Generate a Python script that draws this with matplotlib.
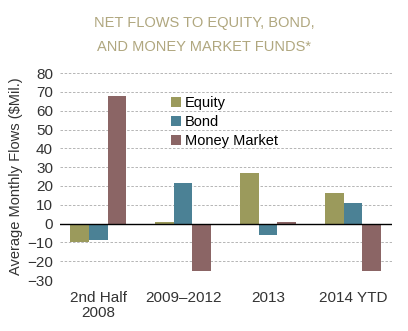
import matplotlib.pyplot as plt
import numpy as np

categories = ['2nd Half\n2008', '2009\u20132012', '2013', '2014 YTD']
equity = [-10, 1, 27, 16.5]
bond = [-8.5, 21.5, -6, 11]
money_market = [68, -25, 1, -25]

plt.rcParams['font.family'] = ['Liberation Sans', 'DejaVu Sans']

fig = plt.figure(figsize=(4.08, 3.31), dpi=100)
ax = fig.add_axes([0.147, 0.154, 0.814, 0.625])

x = np.arange(len(categories))
w = 0.22
ax.bar(x - w, equity, w, color='#9b9a5c', label='Equity', zorder=3)
ax.bar(x, bond, w, color='#4b8195', label='Bond', zorder=3)
ax.bar(x + w, money_market, w, color='#8b6565', label='Money Market', zorder=3)

ax.set_xlim(-0.45, 3.46)
ax.set_ylim(-30, 80)
ax.set_yticks(range(-30, 90, 10))
ax.set_yticklabels([str(v).replace('-', '\u2212') for v in range(-30, 90, 10)])
ax.set_xticks(x)
ax.set_xticklabels(categories, linespacing=1.1)
ax.tick_params(axis='both', length=0, labelsize=11, colors='#333333')
ax.tick_params(axis='x', pad=8)
ax.tick_params(axis='y', pad=5)

ax.grid(axis='y', color='#aaaaaa', linestyle=(0, (3, 2)), linewidth=0.6, zorder=0)
ax.axhline(0, color='black', linewidth=1.0, zorder=4)
for s in ax.spines.values():
    s.set_visible(False)

ax.set_ylabel('Average Monthly Flows ($Mil.)', fontsize=10.5, color='#333333', labelpad=3)

ax.legend(loc='upper left', bbox_to_anchor=(0.335, 0.89), frameon=False, fontsize=10.5,
          handlelength=0.65, handleheight=0.65, handletextpad=0.3, labelspacing=0.35,
          borderaxespad=0, borderpad=0)

fig.text(0.5, 0.932, 'NET FLOWS TO EQUITY, BOND,', ha='center', va='center',
         fontsize=10.5, color='#b0a77f')
fig.text(0.5, 0.857, 'AND MONEY MARKET FUNDS*', ha='center', va='center',
         fontsize=10.5, color='#b0a77f')

plt.savefig('out.png', dpi=100)
plt.close()
